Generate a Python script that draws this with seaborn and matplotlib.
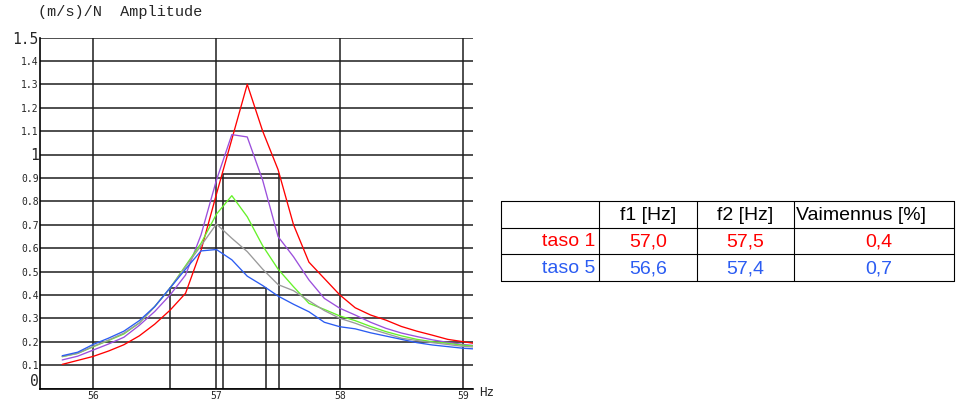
import matplotlib
matplotlib.use("Agg")
import matplotlib.pyplot as plt
import pandas as pd
import seaborn as sns

# Frequency response samples (Hz) and amplitude (m/s)/N per measurement level
freq_hz = [55.75, 55.875, 56.0, 56.125, 56.25, 56.375, 56.5, 56.625, 56.75, 56.875,
           57.0, 57.125, 57.25, 57.375, 57.5, 57.625, 57.75, 57.875, 58.0, 58.125,
           58.25, 58.375, 58.5, 58.625, 58.75, 58.875, 59.0, 59.125]

taso1 = [0.103, 0.120, 0.137, 0.160, 0.187, 0.225, 0.275, 0.335, 0.407, 0.590,
         0.830, 1.065, 1.300, 1.100, 0.935, 0.700, 0.540, 0.470, 0.400, 0.345,
         0.314, 0.292, 0.265, 0.245, 0.228, 0.210, 0.200, 0.190]
taso2 = [0.122, 0.138, 0.164, 0.190, 0.219, 0.270, 0.329, 0.400, 0.485, 0.656,
         0.890, 1.085, 1.075, 0.890, 0.649, 0.563, 0.464, 0.385, 0.343, 0.314,
         0.283, 0.257, 0.237, 0.222, 0.208, 0.197, 0.188, 0.182]
taso3 = [0.136, 0.150, 0.178, 0.205, 0.233, 0.280, 0.350, 0.430, 0.525, 0.620,
         0.745, 0.824, 0.734, 0.610, 0.510, 0.435, 0.364, 0.338, 0.310, 0.290,
         0.265, 0.243, 0.225, 0.210, 0.200, 0.193, 0.185, 0.180]
taso4 = [0.137, 0.150, 0.180, 0.207, 0.237, 0.280, 0.350, 0.430, 0.520, 0.610,
         0.703, 0.642, 0.585, 0.510, 0.444, 0.418, 0.375, 0.333, 0.300, 0.279,
         0.255, 0.235, 0.215, 0.205, 0.196, 0.188, 0.180, 0.176]
taso5 = [0.140, 0.155, 0.188, 0.215, 0.245, 0.290, 0.350, 0.430, 0.510, 0.588,
         0.594, 0.550, 0.480, 0.440, 0.395, 0.360, 0.328, 0.283, 0.264, 0.255,
         0.238, 0.224, 0.210, 0.196, 0.186, 0.179, 0.172, 0.168]

levels = ["taso 1", "taso 2", "taso 3", "taso 4", "taso 5"]
series = [taso1, taso2, taso3, taso4, taso5]
colors = ["#ff0000", "#9b4fdc", "#66f22a", "#9a9a9a", "#2b5cf2"]

# Half-power bandwidth results
table_rows = ["taso 1", "taso 5"]
row_colors = ["#ff0000", "#2b5cf2"]
hp_f1 = [57.05, 56.62]
hp_f2 = [57.51, 57.40]
hp_level = [0.915, 0.43]
damping_pct = [0.4, 0.7]
table_header = ["f1 [Hz]", "f2 [Hz]", "Vaimennus [%]"]

y_ticks = [0.0, 0.1, 0.2, 0.3, 0.4, 0.5, 0.6, 0.7, 0.8, 0.9, 1.0, 1.1, 1.2, 1.3, 1.4, 1.5]
y_tick_labels = ["0", "0.1", "0.2", "0.3", "0.4", "0.5", "0.6", "0.7", "0.8", "0.9",
                 "1", "1.1", "1.2", "1.3", "1.4", "1.5"]
x_ticks = [56, 57, 58, 59]
x_tick_labels = ["56", "57", "58", "59"]

records = []
for name, vals in zip(levels, series):
    for f, a in zip(freq_hz, vals):
        records.append({"f": f, "amp": a, "taso": name})
df = pd.DataFrame(records)

sns.set_style("white")
W, H = 956, 400
fig = plt.figure(figsize=(W / 100, H / 100), dpi=100)
ax = fig.add_axes([40 / W, 1 - 388.5 / H, (473 - 40) / W, (388.5 - 37.5) / H])

grid_col = "#1e1e1e"
ax.set_xlim(55.57, 59.08)
ax.set_ylim(0, 1.5)
ax.set_xticks(x_ticks)
ax.set_yticks(y_ticks)
ax.grid(True, color=grid_col, lw=1.1)
ax.set_axisbelow(True)

sns.lineplot(data=df, x="f", y="amp", hue="taso", hue_order=levels,
             palette=dict(zip(levels, colors)), estimator=None, sort=False,
             legend=False, lw=0.95, ax=ax, zorder=3)

# Half-power bandwidth markers
for f1, f2, lvl in zip(hp_f1, hp_f2, hp_level):
    ax.plot([f1, f1, f2, f2], [0, lvl, lvl, 0], color=grid_col, lw=1.1, zorder=2)

ax.set_xlabel("")
ax.set_ylabel("")
for side in ("top", "right"):
    ax.spines[side].set_visible(False)
for side in ("left", "bottom"):
    ax.spines[side].set_color("black")
    ax.spines[side].set_linewidth(1.2)

ax.tick_params(length=0, pad=1)
ax.set_xticklabels(x_tick_labels, fontfamily="DejaVu Sans Mono", fontsize=7)
ax.set_yticklabels(y_tick_labels, fontfamily="DejaVu Sans Mono", fontsize=7)
for lab in ax.get_yticklabels():
    if lab.get_text() in ("0", "1", "1.5"):
        lab.set_fontsize(10.5)
    if lab.get_text() == "0":
        lab.set_verticalalignment("bottom")
ax.tick_params(axis="x", pad=2)

fig.text(38 / W, 1 - 12 / H, "(m/s)/N  Amplitude", family="Liberation Mono",
         fontsize=11, va="center", ha="left")
fig.text(479 / W, 1 - 393 / H, "Hz", family="DejaVu Sans Mono", fontsize=9,
         va="center", ha="left")

# Results table
tx = fig.add_axes([0, 0, 1, 1])
tx.set_xlim(0, W)
tx.set_ylim(H, 0)
tx.axis("off")
col_x = [501, 599, 697, 794, 954]
row_y = [201, 228, 254, 281]
for y in row_y:
    tx.plot([col_x[0], col_x[-1]], [y, y], color="black", lw=0.8)
for x in col_x:
    tx.plot([x, x], [row_y[0], row_y[-1]], color="black", lw=0.8)

tfont = dict(family="Liberation Sans", fontsize=14, va="center")
hy = (row_y[0] + row_y[1]) / 2 + 1
tx.text((col_x[1] + col_x[2]) / 2, hy, table_header[0], ha="center", color="black", **tfont)
tx.text((col_x[2] + col_x[3]) / 2, hy, table_header[1], ha="center", color="black", **tfont)
tx.text(col_x[3] + 2, hy, table_header[2], ha="left", color="black", **tfont)


def fi(v):
    return f"{v:.1f}".replace(".", ",")


for i, (name, c) in enumerate(zip(table_rows, row_colors)):
    cy = (row_y[i + 1] + row_y[i + 2]) / 2 + 1
    tx.text(col_x[1] - 4, cy, name, ha="right", color=c, **tfont)
    tx.text((col_x[1] + col_x[2]) / 2, cy, fi(hp_f1[i]), ha="center", color=c, **tfont)
    tx.text((col_x[2] + col_x[3]) / 2, cy, fi(hp_f2[i]), ha="center", color=c, **tfont)
    tx.text((col_x[3] + col_x[4]) / 2 + 5, cy, fi(damping_pct[i]), ha="center", color=c, **tfont)

fig.savefig("out.png", dpi=100)
